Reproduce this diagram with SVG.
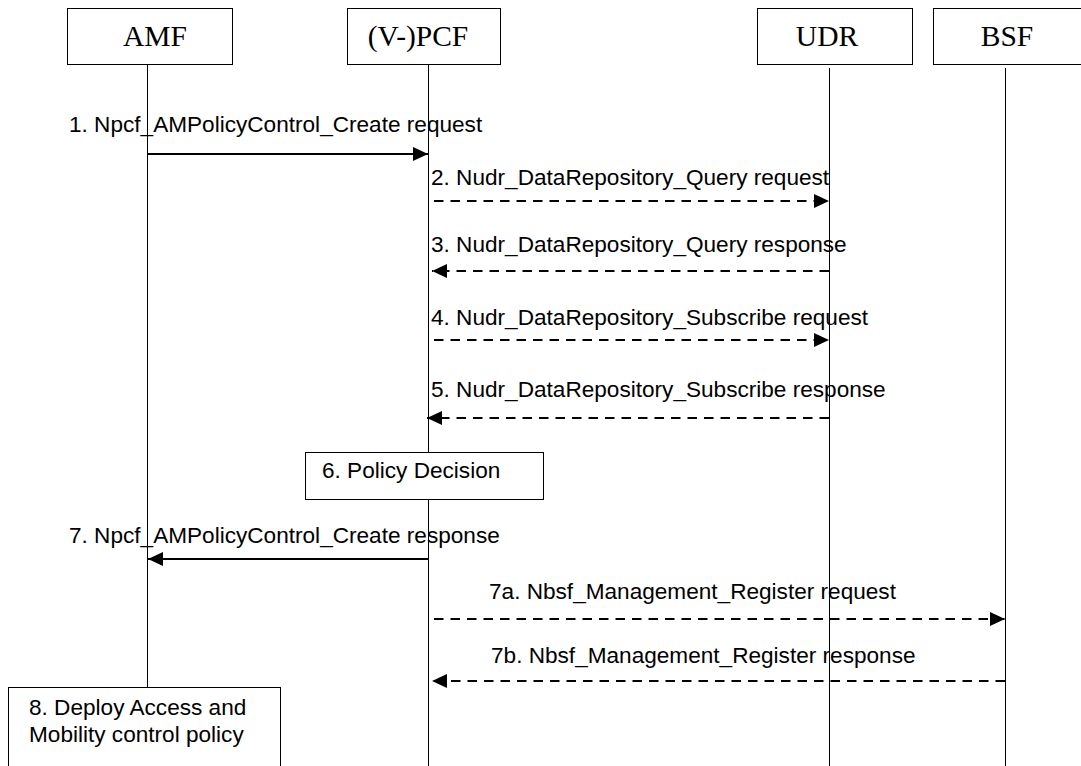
<svg xmlns="http://www.w3.org/2000/svg" width="1081" height="766" viewBox="0 0 1081 766">
  <style>
    .box { fill: #ffffff; stroke: #000000; stroke-width: 1; }
    .ent { font-family: "Liberation Serif", "Times New Roman", serif; font-size: 29.5px; fill: #000000; text-anchor: middle; }
    .lbl { font-family: "Liberation Sans", Arial, sans-serif; font-size: 22.6px; fill: #000000; }
    .life { stroke: #000000; stroke-width: 1; fill: none; }
    .solid { stroke: #000000; stroke-width: 2; fill: none; }
    .dash { stroke: #000000; stroke-width: 2; fill: none; stroke-dasharray: 9.5 7; }
  </style>
  <defs>
    <marker id="arr" markerUnits="userSpaceOnUse" markerWidth="16" markerHeight="16" refX="15" refY="7" orient="auto">
      <path d="M0,0 L15,7 L0,14 z" fill="#000000"/>
    </marker>
  </defs>
  <rect width="1081" height="766" fill="#ffffff"/>

  <g id="AMF">
    <line class="life" x1="147.5" y1="64" x2="147.5" y2="687"/>
    <rect class="box" x="67.5" y="8.5" width="165" height="56"/>
    <text class="ent" x="155" y="46">AMF</text>
  </g>
  <g id="PCF">
    <line class="life" x1="428.5" y1="64" x2="428.5" y2="766"/>
    <rect class="box" x="347.5" y="8.5" width="153" height="56"/>
    <text class="ent" x="418" y="46">(V-)PCF</text>
  </g>
  <g id="UDR">
    <line class="life" x1="829.5" y1="68" x2="829.5" y2="766"/>
    <rect class="box" x="757.5" y="8.5" width="155" height="56"/>
    <text class="ent" x="827" y="46">UDR</text>
  </g>
  <g id="BSF">
    <line class="life" x1="1005.5" y1="68" x2="1005.5" y2="766"/>
    <rect class="box" x="933.5" y="8.5" width="160" height="56"/>
    <text class="ent" x="1007" y="46">BSF</text>
  </g>

  <g id="connectors">
    <line class="solid" x1="147" y1="154" x2="428" y2="154" marker-end="url(#arr)"/>
    <text class="lbl" x="69" y="132">1. Npcf_AMPolicyControl_Create request</text>

    <line class="dash" x1="434" y1="201" x2="829" y2="201" marker-end="url(#arr)"/>
    <text class="lbl" x="431" y="185">2. Nudr_DataRepository_Query request</text>

    <line class="dash" x1="829" y1="271" x2="432" y2="271" marker-end="url(#arr)"/>
    <text class="lbl" x="431" y="252">3. Nudr_DataRepository_Query response</text>

    <line class="dash" x1="434" y1="340" x2="829" y2="340" marker-end="url(#arr)"/>
    <text class="lbl" x="431" y="325">4. Nudr_DataRepository_Subscribe request</text>

    <line class="dash" x1="829" y1="418" x2="427" y2="418" marker-end="url(#arr)"/>
    <text class="lbl" x="431" y="397">5. Nudr_DataRepository_Subscribe response</text>

    <line class="solid" x1="428" y1="559" x2="148" y2="559" marker-end="url(#arr)"/>
    <text class="lbl" x="69" y="543">7. Npcf_AMPolicyControl_Create response</text>

    <line class="dash" x1="434" y1="619" x2="1005" y2="619" marker-end="url(#arr)"/>
    <text class="lbl" x="489" y="599">7a. Nbsf_Management_Register request</text>

    <line class="dash" x1="1005" y1="681" x2="432" y2="681" marker-end="url(#arr)"/>
    <text class="lbl" x="491" y="663">7b. Nbsf_Management_Register response</text>
  </g>

  <g id="PolicyDecision">
    <rect class="box" x="305.5" y="452.5" width="238" height="47"/>
    <text class="lbl" x="322" y="478">6. Policy Decision</text>
  </g>
  <g id="Deploy">
    <rect class="box" x="8.5" y="687.5" width="272" height="85"/>
    <text class="lbl" x="29" y="715">8. Deploy Access and</text>
    <text class="lbl" x="29" y="742">Mobility control policy</text>
  </g>
</svg>
